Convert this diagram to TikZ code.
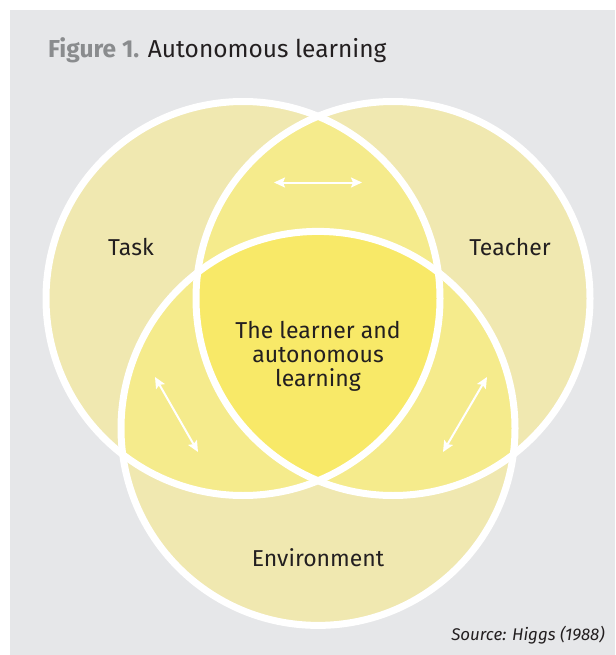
\documentclass[tikz,border=0pt]{standalone}
\usepackage{fontspec}
\setmainfont{Fira Sans}
\usetikzlibrary{arrows.meta}

\definecolor{panelgray}{HTML}{E6E7E9}
\definecolor{onefill}{HTML}{F0E8B0}
\definecolor{twofill}{HTML}{F5EB8C}
\definecolor{threefill}{HTML}{F8E968}
\definecolor{inkdark}{HTML}{231F20}
\definecolor{figgray}{HTML}{8A8C8E}

\tikzset{
  ring/.style={draw=white, line width=7pt},
  label/.style={inner sep=0pt, anchor=base, text=inkdark, font=\fontsize{23}{24}\selectfont},
  link/.style={draw=white, line width=2pt, {Stealth[length=11pt,width=10pt,inset=2pt]}-{Stealth[length=11pt,width=10pt,inset=2pt]}}
}

\begin{document}
\begin{tikzpicture}[x=1pt,y=-1pt]
  \useasboundingbox (0,0) rectangle (615,655);
  \fill[white] (0,0) rectangle (615,655);
  \fill[panelgray] (10,10) rectangle (615,655);

  % circle centres and radius
  \coordinate (cT) at (243,298.5);
  \coordinate (cR) at (393,298.5);
  \coordinate (cE) at (318,428.4);
  \def\rad{197pt}

  % single-circle fills
  \fill[onefill] (cT) circle[radius=\rad];
  \fill[onefill] (cR) circle[radius=\rad];
  \fill[onefill] (cE) circle[radius=\rad];

  % pairwise overlaps
  \begin{scope}
    \clip (cT) circle[radius=\rad];
    \fill[twofill] (cR) circle[radius=\rad];
    \fill[twofill] (cE) circle[radius=\rad];
  \end{scope}
  \begin{scope}
    \clip (cR) circle[radius=\rad];
    \fill[twofill] (cE) circle[radius=\rad];
  \end{scope}

  % common core
  \begin{scope}
    \clip (cT) circle[radius=\rad];
    \clip (cR) circle[radius=\rad];
    \fill[threefill] (cE) circle[radius=\rad];
  \end{scope}

  % white outlines
  \draw[ring] (cT) circle[radius=\rad];
  \draw[ring] (cR) circle[radius=\rad];
  \draw[ring] (cE) circle[radius=\rad];

  % title
  \node[inner sep=0pt, anchor=base west, font=\fontsize{24.5}{28}\selectfont] (title) at (48,58)
    {\textcolor{figgray}{\bfseries Figure 1.} \textcolor{inkdark}{Autonomous learning}};

  % labels
  \node[label] (task) at (131,255) {Task};
  \node[label] (teacher) at (510,255) {Teacher};
  \node[label] (env) at (318,566) {Environment};
  % base anchor of a multi-line node sits on its last line
  \node[label, align=center] (core) at (318,386) {The learner and\\autonomous\\learning};

  % two-way arrows
  \coordinate (a1) at (274,182.5);
  \coordinate (a2) at (362,182.5);
  \coordinate (b1) at (155,377);
  \coordinate (b2) at (198,452);
  \coordinate (c1) at (487,377);
  \coordinate (c2) at (443,452);
  \draw[link] (a1) -- (a2);
  \draw[link] (b1) -- (b2);
  \draw[link] (c1) -- (c2);

  % source line
  \node[inner sep=0pt, anchor=base east, text=inkdark, font=\fontsize{16.9}{19}\selectfont\itshape] (src) at (605,640)
    {Source: Higgs (1988)};
\end{tikzpicture}
\end{document}
